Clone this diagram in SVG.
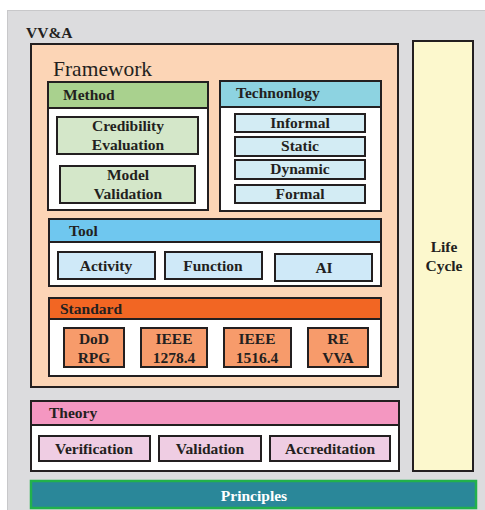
<svg xmlns="http://www.w3.org/2000/svg" width="485" height="510" viewBox="0 0 485 510">
  <style>
    .box { stroke: #231f20; stroke-width: 2; }
    .item { stroke: #231f20; stroke-width: 2; }
    .t { font-family: "Liberation Serif", "Times New Roman", serif; font-weight: bold; font-size: 15.5px; fill: #231f20; }
    .c { text-anchor: middle; }
  </style>
  <rect width="485" height="510" fill="#ffffff"/>
  <!-- VV&A background -->
  <g id="vva">
    <rect x="7.5" y="10.5" width="480" height="502" fill="#dcdcde" stroke="#c8c8ca" stroke-width="1"/>
    <text class="t" x="26" y="38">VV&amp;A</text>
  </g>

  <!-- Framework -->
  <g id="framework">
    <rect class="box" x="31" y="44" width="367" height="343" fill="#fcd5b6"/>
    <text x="53" y="76" font-family="Liberation Serif, serif" font-size="21.5" fill="#231f20">Framework</text>
  </g>

  <!-- Method -->
  <g id="method">
    <rect class="box" x="48" y="82" width="160" height="128" fill="#ffffff"/>
    <rect class="box" x="48" y="82" width="160" height="26" fill="#a9d18e"/>
    <text class="t" x="63" y="100">Method</text>
  </g>
  <g id="credibility-evaluation">
    <rect class="item" x="57" y="117" width="141" height="37" fill="#d4e7c9"/>
    <text class="t c" x="128" y="131">Credibility</text>
    <text class="t c" x="128" y="150">Evaluation</text>
  </g>
  <g id="model-validation">
    <rect class="item" x="60" y="166" width="135" height="37" fill="#d4e7c9"/>
    <text class="t c" x="128" y="180">Model</text>
    <text class="t c" x="128" y="199">Validation</text>
  </g>

  <!-- Technology -->
  <g id="technology">
    <rect class="box" x="220" y="81" width="161" height="130" fill="#ffffff"/>
    <rect class="box" x="220" y="81" width="161" height="26" fill="#8dd3e1"/>
    <text class="t" x="236" y="98">Technonlogy</text>
  </g>
  <g id="informal">
    <rect class="item" x="235" y="114" width="130" height="18" fill="#d3ecf4"/>
    <text class="t c" x="300" y="128">Informal</text>
  </g>
  <g id="static">
    <rect class="item" x="235" y="137" width="130" height="19" fill="#d3ecf4"/>
    <text class="t c" x="300" y="151">Static</text>
  </g>
  <g id="dynamic">
    <rect class="item" x="235" y="160" width="130" height="19" fill="#d3ecf4"/>
    <text class="t c" x="300" y="174">Dynamic</text>
  </g>
  <g id="formal">
    <rect class="item" x="235" y="185" width="130" height="18" fill="#d3ecf4"/>
    <text class="t c" x="300" y="199">Formal</text>
  </g>

  <!-- Tool -->
  <g id="tool">
    <rect class="box" x="49" y="219" width="332" height="67" fill="#ffffff"/>
    <rect class="box" x="49" y="219" width="332" height="23" fill="#6fc7ef"/>
    <text class="t" x="69" y="236">Tool</text>
  </g>
  <g id="activity">
    <rect class="item" x="58" y="252" width="97" height="27" fill="#cfe9f8"/>
    <text class="t c" x="106" y="271">Activity</text>
  </g>
  <g id="function">
    <rect class="item" x="165" y="252" width="97" height="27" fill="#cfe9f8"/>
    <text class="t c" x="213" y="271">Function</text>
  </g>
  <g id="ai">
    <rect class="item" x="275" y="254" width="97" height="27" fill="#cfe9f8"/>
    <text class="t c" x="324" y="273">AI</text>
  </g>

  <!-- Standard -->
  <g id="standard">
    <rect class="box" x="49" y="298" width="332" height="78" fill="#ffffff"/>
    <rect class="box" x="49" y="298" width="332" height="21" fill="#f26623"/>
    <text class="t" x="60" y="314">Standard</text>
  </g>
  <g id="dod-rpg">
    <rect class="item" x="64" y="328" width="60" height="39" fill="#f79b6b"/>
    <text class="t c" x="94" y="344">DoD</text>
    <text class="t c" x="94" y="363">RPG</text>
  </g>
  <g id="ieee-1278">
    <rect class="item" x="141" y="328" width="66" height="39" fill="#f79b6b"/>
    <text class="t c" x="174" y="344">IEEE</text>
    <text class="t c" x="174" y="363">1278.4</text>
  </g>
  <g id="ieee-1516">
    <rect class="item" x="224" y="328" width="67" height="39" fill="#f79b6b"/>
    <text class="t c" x="257" y="344">IEEE</text>
    <text class="t c" x="257" y="363">1516.4</text>
  </g>
  <g id="re-vva">
    <rect class="item" x="308" y="328" width="60" height="39" fill="#f79b6b"/>
    <text class="t c" x="338" y="344">RE</text>
    <text class="t c" x="338" y="363">VVA</text>
  </g>

  <!-- Theory -->
  <g id="theory">
    <rect class="box" x="31" y="401" width="368" height="70" fill="#ffffff"/>
    <rect class="box" x="31" y="401" width="368" height="24" fill="#f497c1"/>
    <text class="t" x="49" y="418">Theory</text>
  </g>
  <g id="verification">
    <rect class="item" x="39" y="436" width="111" height="25" fill="#efcde3"/>
    <text class="t c" x="94" y="454">Verification</text>
  </g>
  <g id="validation">
    <rect class="item" x="159" y="436" width="102" height="25" fill="#efcde3"/>
    <text class="t c" x="210" y="454">Validation</text>
  </g>
  <g id="accreditation">
    <rect class="item" x="270" y="436" width="120" height="25" fill="#efcde3"/>
    <text class="t c" x="330" y="454">Accreditation</text>
  </g>

  <!-- Life Cycle -->
  <g id="life-cycle">
    <rect class="box" x="413" y="41" width="60" height="430" fill="#fcf8cd"/>
    <text class="t c" x="444" y="252">Life</text>
    <text class="t c" x="444" y="271">Cycle</text>
  </g>

  <!-- Principles -->
  <g id="principles">
    <rect x="31" y="481" width="445" height="27" fill="#2a8799" stroke="#22b14c" stroke-width="2.5"/>
    <text class="t c" x="254" y="501" style="fill:#ffffff">Principles</text>
  </g>

  <!-- no connectors in this layout -->
  <g id="connectors"/>
</svg>
